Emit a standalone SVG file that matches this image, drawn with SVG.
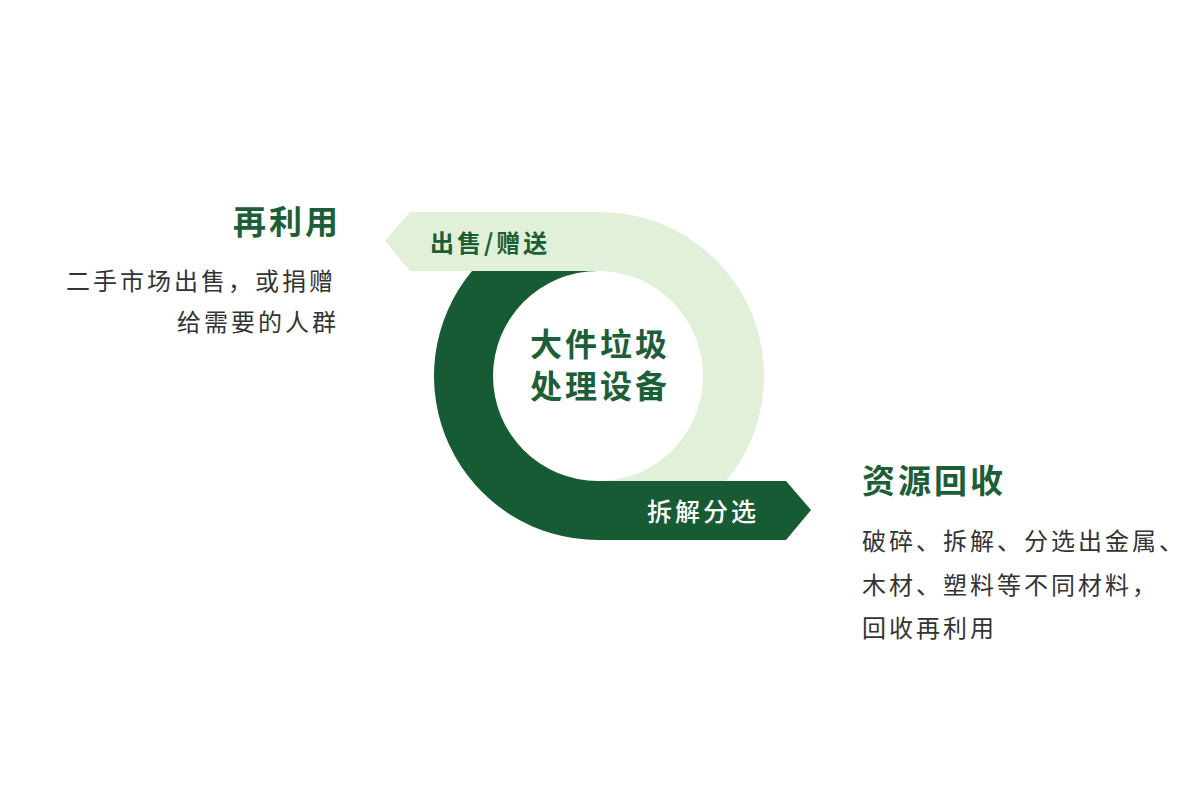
<svg xmlns="http://www.w3.org/2000/svg" width="1200" height="800" viewBox="0 0 1200 800">
<style>
text{font-family:"Noto Sans CJK SC","Noto Sans",sans-serif;}
.title{font-size:33px;font-weight:700;fill:#1b5e37;letter-spacing:3px;}
.body{font-size:24px;fill:#333333;letter-spacing:3px;}
.center{font-size:32px;font-weight:700;fill:#1b5e37;letter-spacing:3px;}
.lbl-light{font-size:24px;font-weight:700;fill:#1b5e37;letter-spacing:3px;}
.lbl-dark{font-size:25px;font-weight:500;fill:#ffffff;letter-spacing:3px;}
.light{fill:#e2f0d9;}
.dark{fill:#175b34;}
</style>
<rect width="1200" height="800" fill="#ffffff"/>
<g id="connectors">
<path id="arrow-dark" class="dark" d="M 472 271 A 164 164 0 0 0 598 540 H 786 L 811 510 L 786 481 H 598 A 105 105 0 0 1 598 271 Z"/>
<path id="arrow-light" class="light" d="M 385 241 L 410 212 H 598 A 164 164 0 0 1 726 481 H 598 A 105 105 0 0 0 598 271 H 410 Z"/>
<text class="lbl-light" x="430" y="252">出售/赠送</text>
<text class="lbl-dark" x="647" y="521">拆解分选</text>
</g>
<g id="center-node">
<text class="center" x="600" y="356" text-anchor="middle">大件垃圾</text>
<text class="center" x="600" y="398" text-anchor="middle">处理设备</text>
</g>
<g id="reuse-node">
<text class="title" x="233" y="234">再利用</text>
<text class="body" x="66" y="290">二手市场出售，或捐赠</text>
<text class="body" x="177" y="331">给需要的人群</text>
</g>
<g id="recycle-node">
<text class="title" x="862" y="493">资源回收</text>
<text class="body" x="862" y="550">破碎、拆解、分选出金属、</text>
<text class="body" x="862" y="594">木材、塑料等不同材料，</text>
<text class="body" x="862" y="637">回收再利用</text>
</g>
</svg>
